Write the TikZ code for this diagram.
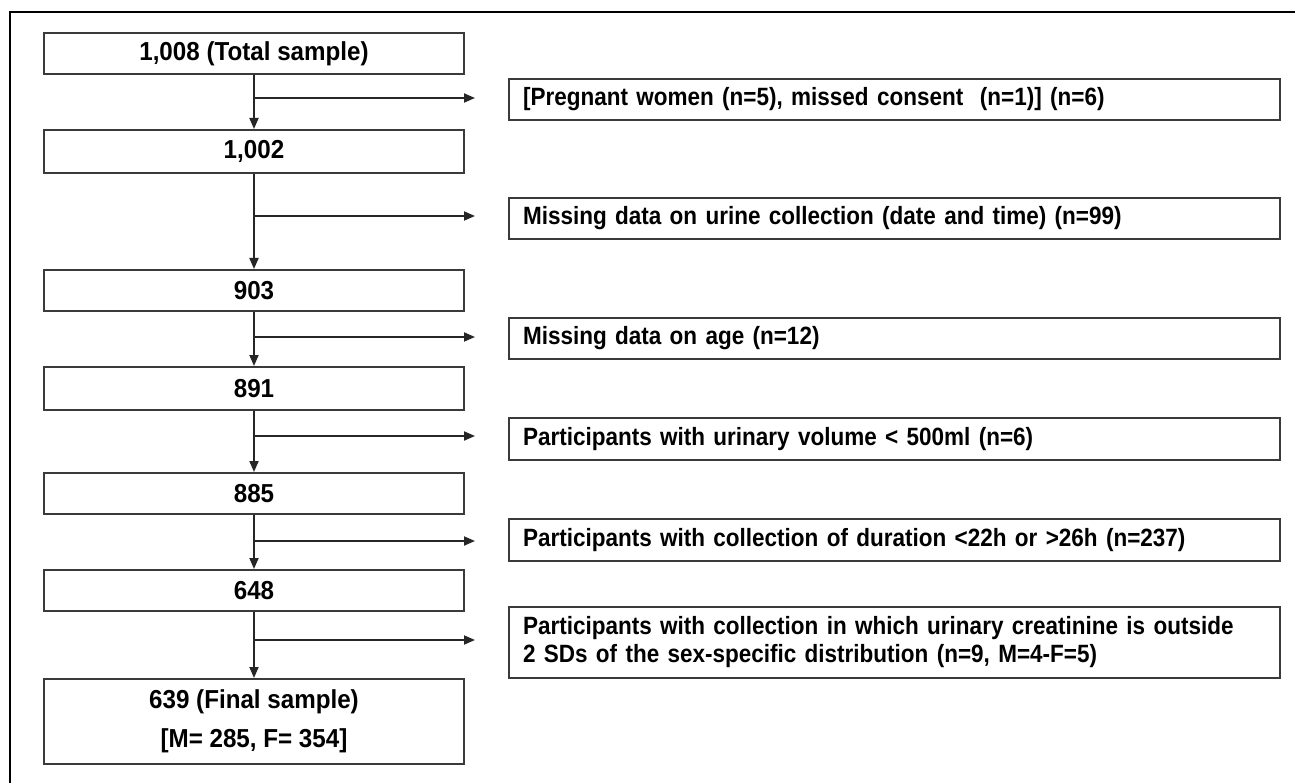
\documentclass[tikz,border=0pt]{standalone}
\usepackage{fontspec}
\setmainfont{Liberation Sans}
\newfontfamily\leftfont{Liberation Sans}[FakeStretch=0.93]
\newfontfamily\rightfont{Liberation Sans}[FakeStretch=0.9]
\usetikzlibrary{arrows.meta}
\definecolor{boxline}{HTML}{3A3A3A}
\tikzset{
  leftbox/.style={draw=boxline, line width=2pt, rectangle, anchor=north west,
    minimum width=420pt, minimum height=41pt, inner sep=0pt,
    font=\leftfont\bfseries\fontsize{26}{28}\selectfont, align=center},
  rightbox/.style={draw=boxline, line width=2pt, rectangle, anchor=north west,
    minimum width=771pt, minimum height=41pt, text width=743pt, inner xsep=14pt, inner ysep=0pt,
    font=\rightfont\bfseries\fontsize{25}{28}\selectfont, align=left},
  flowarrow/.style={draw=black!85, line width=1.8pt, -{Triangle[length=11pt,width=9pt]}},
  frameline/.style={draw=black, line width=2.5pt}
}
\begin{document}
\begin{tikzpicture}[x=1pt,y=-1pt]
\useasboundingbox (0,0) rectangle (1295,783);
\fill[white] (0,0) rectangle (1295,783);
\coordinate (fa) at (10,790);
\coordinate (fb) at (10,12);
\coordinate (fc) at (1300,12);
\draw[frameline] (fa) -- (fb) -- (fc);

% left column
\node[leftbox] (L1) at (43,32) {1,008 (Total sample)};
\node[leftbox, minimum height=43pt] (L2) at (43,129) {1,002};
\node[leftbox] (L3) at (43,269) {903};
\node[leftbox, minimum height=43pt] (L4) at (43,366) {891};
\node[leftbox] (L5) at (43,472) {885};
\node[leftbox] (L6) at (43,569) {648};
\node[leftbox, minimum height=85pt, font=\leftfont\bfseries\fontsize{26}{39}\selectfont] (L7) at (43,678) {639 (Final sample)\\{}[M= 285, F= 354]};

% right column
\node[rightbox] (R1) at (508,78) {[Pregnant women (n=5), missed consent\ \ (n=1)] (n=6)};
\node[rightbox] (R2) at (508,197) {Missing data on urine collection (date and time) (n=99)};
\node[rightbox] (R3) at (508,317) {Missing data on age (n=12)};
\node[rightbox, minimum height=42pt] (R4) at (508,417) {Participants with urinary volume < 500ml (n=6)};
\node[rightbox, minimum height=42pt] (R5) at (508,518) {Participants with collection of duration <22h or >26h (n=237)};
\node[rightbox, minimum height=71pt] (R6) at (508,606) {Participants with collection in which urinary creatinine is outside\\2 SDs of the sex-specific distribution (n=9, M=4-F=5)};

% vertical arrows
\draw[flowarrow] (L1.south) -- (L2.north);
\draw[flowarrow] (L2.south) -- (L3.north);
\draw[flowarrow] (L3.south) -- (L4.north);
\draw[flowarrow] (L4.south) -- (L5.north);
\draw[flowarrow] (L5.south) -- (L6.north);
\draw[flowarrow] (L6.south) -- (L7.north);

% branch arrows
\coordinate (b1) at (253,98);  \coordinate (e1) at (475,98);
\coordinate (b2) at (253,216); \coordinate (e2) at (475,216);
\coordinate (b3) at (253,337); \coordinate (e3) at (475,337);
\coordinate (b4) at (253,436); \coordinate (e4) at (475,436);
\coordinate (b5) at (253,541); \coordinate (e5) at (475,541);
\coordinate (b6) at (253,640); \coordinate (e6) at (475,640);
\draw[flowarrow] (b1) -- (e1);
\draw[flowarrow] (b2) -- (e2);
\draw[flowarrow] (b3) -- (e3);
\draw[flowarrow] (b4) -- (e4);
\draw[flowarrow] (b5) -- (e5);
\draw[flowarrow] (b6) -- (e6);
\end{tikzpicture}
\end{document}
